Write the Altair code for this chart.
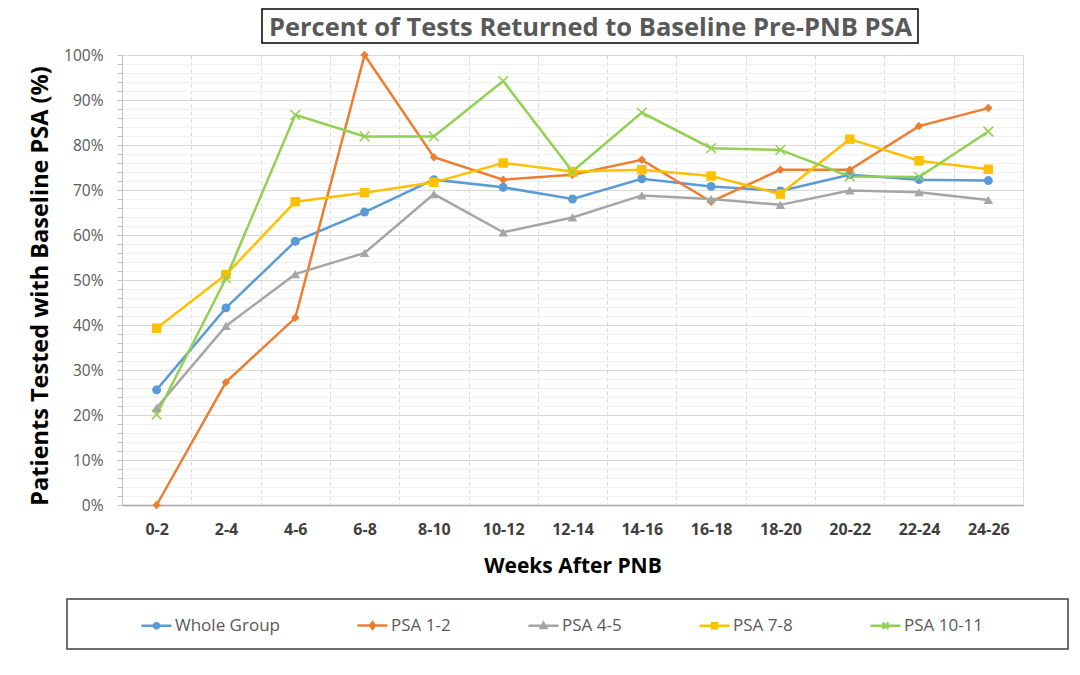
import math
import altair as alt
import pandas as pd

# ---------------- data ----------------
periods = ["0-2", "2-4", "4-6", "6-8", "8-10", "10-12", "12-14",
           "14-16", "16-18", "18-20", "20-22", "22-24", "24-26"]
series_names = ["Whole Group", "PSA 1-2", "PSA 4-5", "PSA 7-8", "PSA 10-11"]

whole_group = [25.6, 43.8, 58.6, 65.1, 72.3, 70.6, 68.0, 72.5, 70.8, 69.8, 73.4, 72.3, 72.1]
psa_1_2 = [0.0, 27.3, 41.6, 100.0, 77.3, 72.3, 73.4, 76.7, 67.4, 74.5, 74.5, 84.2, 88.2]
psa_4_5 = [21.6, 39.8, 51.3, 56.0, 69.1, 60.6, 63.9, 68.8, 68.0, 66.7, 69.9, 69.5, 67.8]
psa_7_8 = [39.3, 51.2, 67.4, 69.4, 71.7, 76.0, 74.1, 74.5, 73.1, 69.1, 81.3, 76.5, 74.6]
psa_10_11 = [20.1, 50.4, 86.7, 81.9, 81.9, 94.2, 74.1, 87.2, 79.3, 78.9, 73.0, 72.9, 83.0]

y_tick_values = list(range(0, 101, 2))

chart_title = "Percent of Tests Returned to Baseline Pre-PNB PSA"
x_title = "Weeks After PNB"
y_title = "Patients Tested with Baseline PSA (%)"

series_colors = ["#5B9BD5", "#ED7D31", "#A5A5A5", "#FFC000", "#92D050"]

FONT = "Open Sans"

rows = []
for name, vals in zip(series_names, [whole_group, psa_1_2, psa_4_5, psa_7_8, psa_10_11]):
    for i, (p, v) in enumerate(zip(periods, vals)):
        rows.append({"period": p, "idx": i, "series": name, "pct": v})
df = pd.DataFrame(rows)

# ---------------- marker shapes ----------------
X_PATH = "M-1,-1L1,1M-1,1L1,-1"
point_shapes = ["circle", "diamond", "triangle-up", "square", X_PATH]
point_sizes = [80, 72, 90, 90, 95]
point_filled = [True, True, True, True, False]


def circle_path(r, n=20):
    pts = []
    for k in range(n):
        a = 2 * math.pi * k / n
        pts.append(f"{r * math.cos(a):.3f},{r * math.sin(a):.3f}")
    return "M" + "L".join(pts) + "Z"


LINE = "M-1,0L1,0"
legend_paths = [
    LINE + circle_path(0.17),
    LINE + "M0,-0.22L0.16,0L0,0.22L-0.16,0Z",
    LINE + "M0,-0.2L0.19,0.15L-0.19,0.15Z",
    LINE + "M-0.16,-0.16L0.16,-0.16L0.16,0.16L-0.16,0.16Z",
    LINE + "M-0.2,-0.2L0.2,0.2M-0.2,0.2L0.2,-0.2",
]

# ---------------- encodings ----------------
color_scale = alt.Scale(domain=series_names, range=series_colors)

x_enc = alt.X(
    "period:N", sort=periods, bandPosition=0.5,
    scale=alt.Scale(type="band", paddingInner=0, paddingOuter=0),
    axis=alt.Axis(
        title=x_title, grid=True, tickBand="extent", gridDash=[4, 3],
        gridColor="#d9d9d9", ticks=False, tickSize=0, labelAngle=0,
        labelFont=FONT, labelFontWeight="bold", labelFontSize=16,
        labelColor="#404040", labelPadding=16,
        domainColor="#a6a6a6", domainWidth=1.5,
        titleFont=FONT, titleFontSize=21, titleFontWeight="bold",
        titleColor="#000000", titlePadding=18.5,
    ),
)

y_enc = alt.Y(
    "pct:Q",
    scale=alt.Scale(domain=[0, 100], nice=False),
    axis=alt.Axis(
        title=y_title, values=y_tick_values,
        labelExpr="datum.value % 10 === 0 ? datum.value + '%' : ''",
        labelOverlap=False, labelFlush=False,
        gridColor={"condition": {"test": "datum.value % 10 === 0", "value": "#d9d9d9"},
                   "value": "#f0f0f0"},
        tickColor="#bfbfbf", tickSize=5, domainColor="#bfbfbf",
        labelFont=FONT, labelFontSize=15.5, labelColor="#595959", labelPadding=14,
        titleFont=FONT, titleFontSize=23.5, titleFontWeight="bold",
        titleColor="#000000", titlePadding=11, titleY=230.5,
    ),
)

color_nolegend = alt.Color("series:N", scale=color_scale, legend=None)

lines = alt.Chart(df).mark_line(strokeWidth=2.5).encode(
    x=x_enc, y=y_enc, color=color_nolegend, order=alt.Order("idx:Q")
)

point_layers = []
for name, shp, sz, fl in zip(series_names, point_shapes, point_sizes, point_filled):
    point_layers.append(
        alt.Chart(df)
        .transform_filter(alt.datum.series == name)
        .mark_point(shape=shp, size=sz, filled=fl, opacity=1, strokeWidth=1.5)
        .encode(x=x_enc, y=y_enc, color=color_nolegend)
    )

leg = alt.Legend(
    title=None, orient="none", legendX=18, legendY=554, direction="horizontal",
    symbolSize=900, symbolStrokeWidth=2.5, symbolOpacity=1,
    labelFont=FONT, labelFontSize=17, labelColor="#595959", labelOffset=2,
    columnPadding=72, padding=0, labelLimit=300,
)

# legend-only layer (no rows drawn): listed first so its legend settings win
legend_layer = (
    alt.Chart(df)
    .transform_filter("datum.pct < -1")
    .mark_point(filled=True, opacity=1)
    .encode(
        x=x_enc, y=y_enc,
        color=alt.Color("series:N", scale=color_scale, legend=leg),
        stroke=alt.Stroke("series:N", scale=alt.Scale(domain=series_names, range=series_colors), legend=leg),
        shape=alt.Shape("series:N", scale=alt.Scale(domain=series_names, range=legend_paths), legend=leg),
    )
)

one = pd.DataFrame({"k": [0]})
title_box = alt.Chart(one).mark_rect(fill="white", fillOpacity=0, stroke="#000000", strokeWidth=1.5).encode(
    x=alt.value(140), x2=alt.value(796), y=alt.value(-46), y2=alt.value(-12)
)
legend_box = alt.Chart(one).mark_rect(fill="white", fillOpacity=0, stroke="#404040", strokeWidth=1.5).encode(
    x=alt.value(-55), x2=alt.value(946), y=alt.value(544), y2=alt.value(594)
)

chart = (
    alt.layer(legend_layer, title_box, legend_box, lines, *point_layers)
    .properties(
        width=901, height=450,
        title=alt.TitleParams(
            text=chart_title, anchor="middle", dx=18, dy=49, offset=16,
            font=FONT, fontSize=25.5, fontWeight="bold", color="#595959",
        ),
        autosize=alt.AutoSizeParams(type="none"),
        padding={"left": 114, "top": 47, "right": 49, "bottom": 162},
    )
    .configure_view(stroke="#bfbfbf", fill="white")
    .configure(background="white")
)

chart.save("out.html", embed_options={"renderer": "svg", "actions": False})
